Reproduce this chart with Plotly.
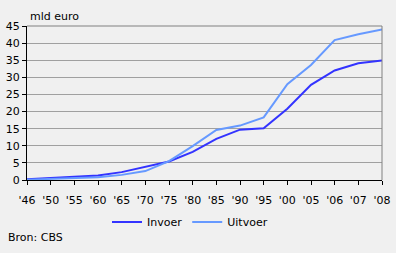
import plotly.graph_objects as go

categories = ["'46", "'50", "'55", "'60", "'65", "'70", "'75", "'80", "'85", "'90",
              "'95", "'00", "'05", "'06", "'07", "'08"]
invoer = [0.2, 0.5, 0.8, 1.3, 2.3, 3.8, 5.4, 8.2, 12.0, 14.7, 15.1, 20.8, 27.8, 32.0, 34.1, 34.9]
uitvoer = [0.1, 0.4, 0.6, 0.8, 1.5, 2.6, 5.5, 9.9, 14.6, 15.9, 18.3, 28.0, 33.6, 40.9, 42.6, 44.0]
y_ticks = [0, 5, 10, 15, 20, 25, 30, 35, 40, 45]

W, H = 396, 253
l, r, t, b = 27, 14, 26, 73
pw, ph = W - l - r, H - t - b

def px_x(px):
    return (px - l) / pw

def px_y(py):
    return (H - b - py) / ph

xidx = list(range(len(categories)))
font = dict(family="DejaVu Sans, Verdana, sans-serif", size=11, color="black")

fig = go.Figure()
fig.add_trace(go.Scatter(x=xidx, y=invoer, mode="lines", name="Invoer",
                         line=dict(color="#3333ff", width=2)))
fig.add_trace(go.Scatter(x=xidx, y=uitvoer, mode="lines", name="Uitvoer",
                         line=dict(color="#6699ff", width=2)))

fig.update_layout(
    width=W, height=H,
    margin=dict(l=l, r=r, t=t, b=b, autoexpand=False),
    paper_bgcolor="#f0f0f0", plot_bgcolor="#f0f0f0",
    font=font,
    showlegend=True,
    legend=dict(orientation="h", x=px_x(190), xanchor="center", y=px_y(222), yanchor="middle",
                font=dict(size=11), bgcolor="rgba(0,0,0,0)", itemwidth=30,
                tracegroupgap=0),
    xaxis=dict(range=[0, len(categories) - 1], tickvals=xidx, ticktext=categories,
               showgrid=False, showline=True, linecolor="black", linewidth=1,
               ticks="outside", ticklen=4, tickcolor="black", zeroline=False,
               automargin=False, ticklabelstandoff=6, tickfont=dict(size=11)),
    yaxis=dict(range=[0, 45], tickvals=y_ticks, showgrid=True, gridcolor="#a0a0a0",
               gridwidth=1, showline=True, linecolor="black", linewidth=1,
               ticks="outside", ticklen=4, tickcolor="black", zeroline=False,
               automargin=False, tickfont=dict(size=11)),
)
fig.add_annotation(text="mld euro", x=px_x(28), y=px_y(16), xref="paper", yref="paper",
                   showarrow=False, xanchor="left", yanchor="middle", font=dict(size=11))
fig.add_annotation(text="Bron: CBS", x=px_x(6), y=px_y(237), xref="paper", yref="paper",
                   showarrow=False, xanchor="left", yanchor="middle", font=dict(size=11))

# top and right border lines
fig.add_shape(type="line", xref="paper", yref="paper", x0=0, x1=1, y0=1, y1=1,
              line=dict(color="#808080", width=1))
fig.add_shape(type="line", xref="paper", yref="paper", x0=1, x1=1, y0=0, y1=1,
              line=dict(color="#808080", width=1))

fig.write_html("out.html")
